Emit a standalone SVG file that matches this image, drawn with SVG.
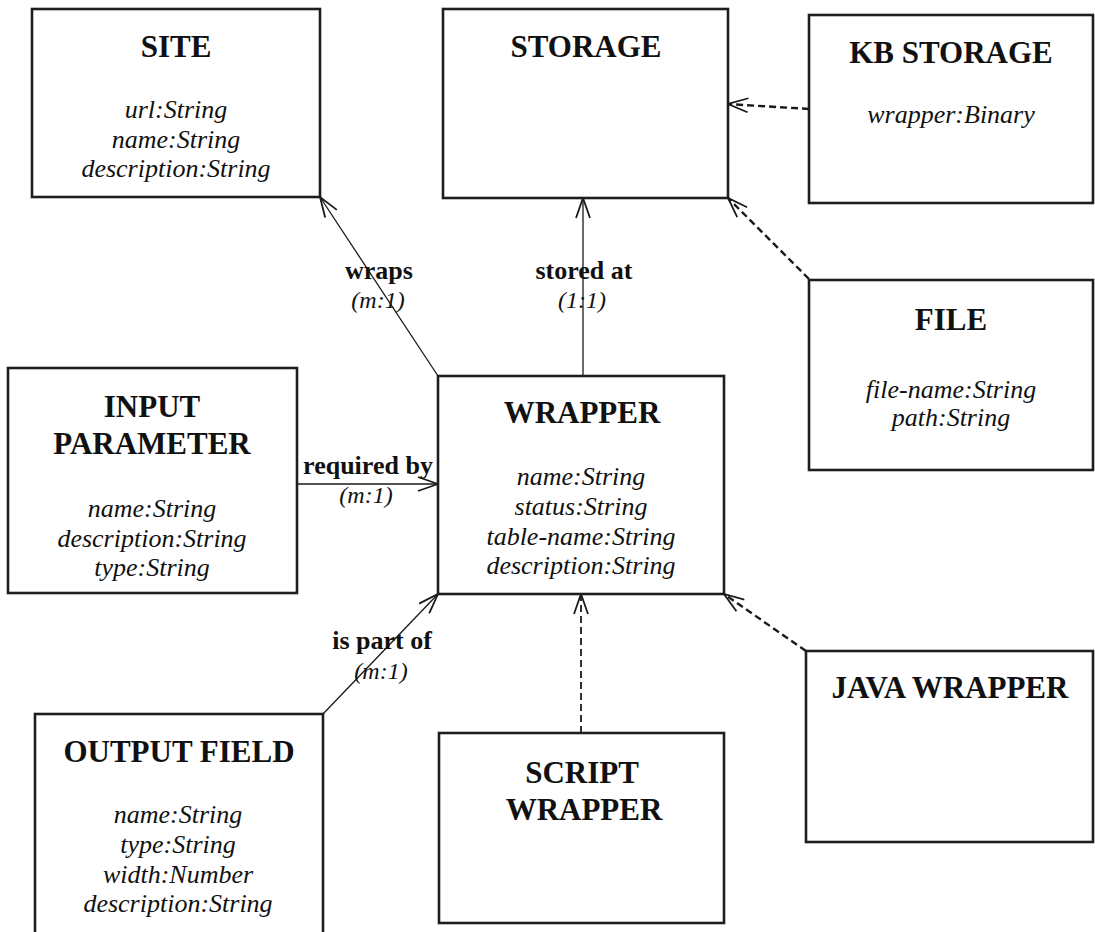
<svg xmlns="http://www.w3.org/2000/svg" width="1095" height="932" viewBox="0 0 1095 932">
  <style>
    .box { fill: #ffffff; stroke: #1e1e1e; stroke-width: 2.6; }
    .title { font-family: "Liberation Serif", "Times New Roman", serif; font-weight: bold; font-size: 31px; fill: #111; text-anchor: middle; }
    .attr { font-family: "Liberation Serif", "Times New Roman", serif; font-style: italic; font-size: 26px; fill: #111; text-anchor: middle; }
    .rel { font-family: "Liberation Serif", "Times New Roman", serif; font-weight: bold; font-size: 26px; fill: #111; text-anchor: middle; }
    .card { font-family: "Liberation Serif", "Times New Roman", serif; font-style: italic; font-size: 24px; fill: #111; text-anchor: middle; }
    .assoc { fill: none; stroke: #1a1a1a; stroke-width: 1.3; marker-end: url(#open); }
    .inherit { fill: none; stroke: #1a1a1a; stroke-width: 2.4; stroke-dasharray: 7 4; marker-end: url(#open); }
  </style>
  <defs>
    <marker id="open" viewBox="0 0 22 16" refX="21" refY="8" markerWidth="22" markerHeight="16" markerUnits="userSpaceOnUse" orient="auto">
      <path d="M1,1 L21,8 L1,15" fill="none" stroke="#1a1a1a" stroke-width="1.8"/>
    </marker>
  </defs>

  <rect width="1095" height="932" fill="#ffffff"/>

  <!-- connectors -->
  <g id="connectors">
    <line class="assoc" x1="438" y1="376" x2="320" y2="197"/>
    <line class="assoc" x1="583" y1="376" x2="583" y2="198"/>
    <line class="assoc" x1="297" y1="484" x2="438" y2="484"/>
    <line class="assoc" x1="323" y1="714" x2="438" y2="594"/>
    <line class="inherit" x1="809" y1="109" x2="728" y2="104"/>
    <line class="inherit" x1="809" y1="279" x2="728" y2="198"/>
    <line class="inherit" x1="581" y1="733" x2="581" y2="594" style="stroke-width:1.8"/>
    <line class="inherit" x1="806" y1="651" x2="724" y2="594"/>

    <text class="rel" x="379" y="279">wraps</text>
    <text class="card" x="378" y="308">(m:1)</text>
    <text class="rel" x="584" y="279">stored at</text>
    <text class="card" x="582" y="308">(1:1)</text>
    <text class="rel" x="368" y="474">required by</text>
    <text class="card" x="366" y="503">(m:1)</text>
    <text class="rel" x="382" y="649">is part of</text>
    <text class="card" x="381" y="679">(m:1)</text>
  </g>

  <g id="site">
    <rect class="box" x="32" y="9" width="288" height="188"/>
    <text class="title" x="176" y="57">SITE</text>
    <text class="attr" x="176" y="118">url:String</text>
    <text class="attr" x="176" y="148">name:String</text>
    <text class="attr" x="176" y="177">description:String</text>
  </g>

  <g id="storage">
    <rect class="box" x="443" y="9" width="285" height="189"/>
    <text class="title" x="586" y="57">STORAGE</text>
  </g>

  <g id="kb-storage">
    <rect class="box" x="809" y="15" width="284" height="188"/>
    <text class="title" x="951" y="63">KB STORAGE</text>
    <text class="attr" x="951" y="123">wrapper:Binary</text>
  </g>

  <g id="file">
    <rect class="box" x="809" y="280" width="284" height="190"/>
    <text class="title" x="951" y="330">FILE</text>
    <text class="attr" x="951" y="398">file-name:String</text>
    <text class="attr" x="951" y="426">path:String</text>
  </g>

  <g id="input-parameter">
    <rect class="box" x="8" y="368" width="289" height="225"/>
    <text class="title" x="152" y="417">INPUT</text>
    <text class="title" x="152" y="454">PARAMETER</text>
    <text class="attr" x="152" y="517">name:String</text>
    <text class="attr" x="152" y="547">description:String</text>
    <text class="attr" x="152" y="576">type:String</text>
  </g>

  <g id="wrapper">
    <rect class="box" x="438" y="376" width="286" height="218"/>
    <text class="title" x="582" y="423">WRAPPER</text>
    <text class="attr" x="581" y="485">name:String</text>
    <text class="attr" x="581" y="515">status:String</text>
    <text class="attr" x="581" y="545">table-name:String</text>
    <text class="attr" x="581" y="574">description:String</text>
  </g>

  <g id="output-field">
    <rect class="box" x="35" y="714" width="288" height="230"/>
    <text class="title" x="179" y="762">OUTPUT FIELD</text>
    <text class="attr" x="178" y="823">name:String</text>
    <text class="attr" x="178" y="853">type:String</text>
    <text class="attr" x="178" y="883">width:Number</text>
    <text class="attr" x="178" y="912">description:String</text>
  </g>

  <g id="script-wrapper">
    <rect class="box" x="439" y="733" width="285" height="190"/>
    <text class="title" x="582" y="783">SCRIPT</text>
    <text class="title" x="584" y="820">WRAPPER</text>
  </g>

  <g id="java-wrapper">
    <rect class="box" x="806" y="651" width="287" height="191"/>
    <text class="title" x="950" y="698">JAVA WRAPPER</text>
  </g>
</svg>
